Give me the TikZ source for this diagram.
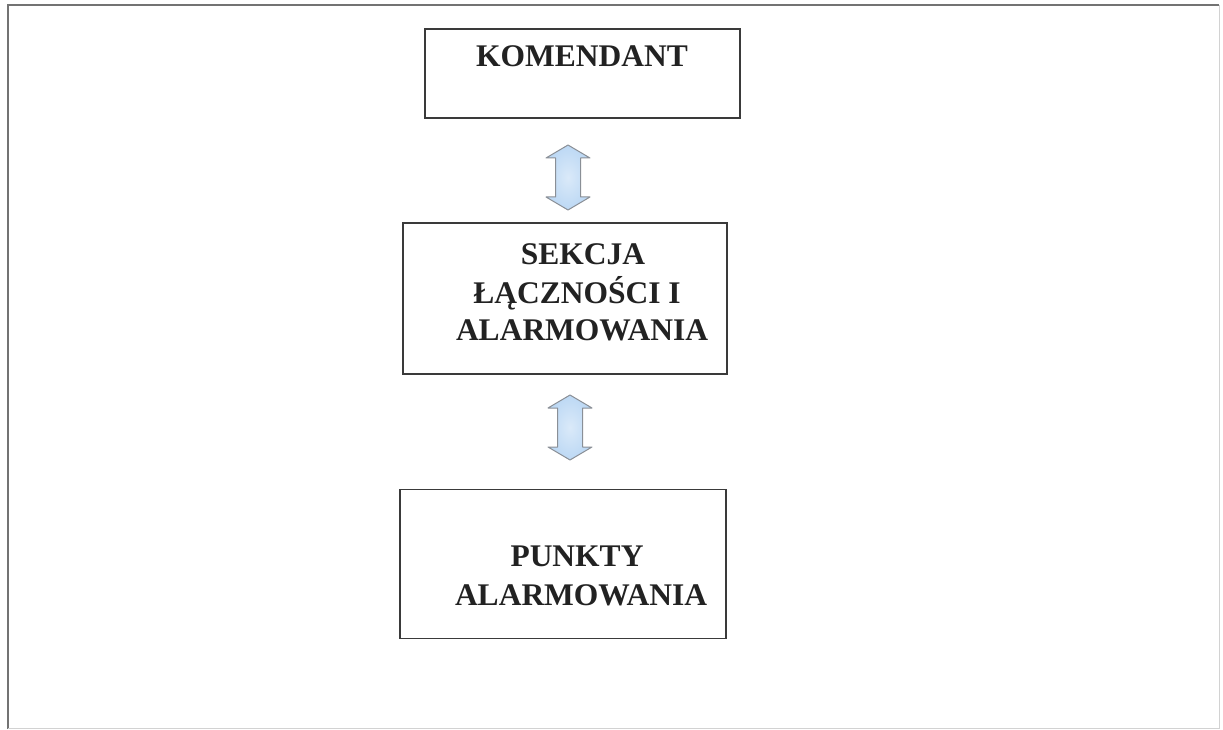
\documentclass[tikz,border=0pt]{standalone}
\usepackage{fontspec}
\setmainfont{Liberation Serif}
\definecolor{boxline}{HTML}{3A3A3A}
\definecolor{txt}{HTML}{222222}
\definecolor{arrfill}{HTML}{BCD8F4}
\definecolor{arrline}{HTML}{8A8F96}
\tikzset{
  orgbox/.style={draw=boxline, line width=1.6pt, fill=white, inner sep=0pt},
  label text/.style={text=txt, font=\fontsize{31.5}{35}\selectfont\bfseries, anchor=base, inner sep=0pt},
  arrstyle/.style={draw=arrline, line width=1pt, line join=round, inner color=arrfill!55, outer color=arrfill},
  pics/dblarr/.style={code={
    \path[arrstyle] (0,-32.5) -- (22,-19.5) -- (12.5,-19.5) -- (12.5,19.5) -- (22,19.5)
      -- (0,32.5) -- (-22,19.5) -- (-12.5,19.5) -- (-12.5,-19.5) -- (-22,-19.5) -- cycle;
  }}
}
\begin{document}
\begin{tikzpicture}[x=1pt,y=-1pt]
\useasboundingbox (0,0) rectangle (1223,730);
% outer frame
\draw[draw=gray!90!black, line width=1.5pt] (8,729) -- (8,5) -- (1219,5);
\draw[draw=gray!35, line width=1pt] (1219,5) -- (1219,728) -- (8,728);
% boxes
\node[orgbox, minimum width=315pt, minimum height=89pt] (k) at (582.5,73.5) {};
\node[orgbox, minimum width=324pt, minimum height=151pt] (s) at (565,298.5) {};
\node[orgbox, minimum width=326pt, minimum height=149pt] (p) at (563,564) {};
% texts
\node[label text] (k1) at (582,67) {KOMENDANT};
\node[label text] (s1) at (583,264) {SEKCJA};
\node[label text] (s2) at (577,303) {ŁĄCZNOŚCI I};
\node[label text] (s3) at (582,340) {ALARMOWANIA};
\node[label text] (p1) at (577,566) {PUNKTY};
\node[label text] (p2) at (581,605) {ALARMOWANIA};
% arrows
\coordinate (a1) at (568,177.5);
\coordinate (a2) at (570,427.5);
\pic at (a1) {dblarr};
\pic at (a2) {dblarr};
\end{tikzpicture}
\end{document}
